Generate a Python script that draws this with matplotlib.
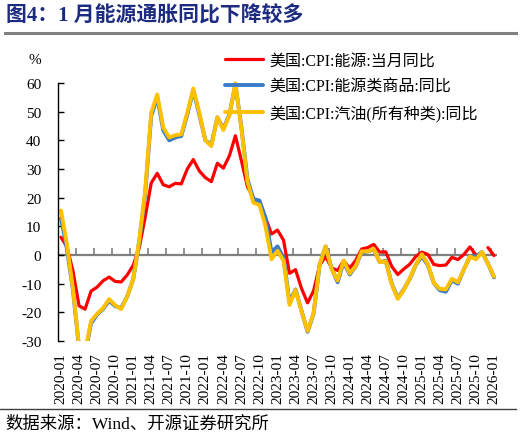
import matplotlib
matplotlib.use("Agg")
import matplotlib.pyplot as plt
import matplotlib.patches as mpatches
import numpy as np
import pandas as pd

months = [p.strftime("%Y-%m") for p in pd.period_range("2020-01", "2026-01", freq="M")]

energy_yoy = [
    6.2, 2.8, -5.7, -17.7, -18.9, -12.6, -11.2, -9.0, -7.7, -9.2, -9.4, -7.0,
    -3.6, 2.4, 13.2, 25.1, 28.5, 24.5, 23.8, 25.0, 24.8, 30.0, 33.3, 29.3,
    27.0, 25.6, 32.0, 30.3, 34.6, 41.6, 32.9, 23.8, 19.8, 17.6, 13.1, 7.3,
    8.7, 5.2, -6.4, -5.1, -11.7, -16.7, -12.5, -3.6, -0.5, -4.5, -5.4, -2.0,
    -4.6, -1.9, 2.1, 2.6, 3.7, 1.0, 1.1, -4.0, -6.8, -4.9, -3.2, -0.5,
    1.0, 0.2, -3.3, -3.7, -3.5, -0.8, -1.6, 0.2, 2.8, 0.0, np.nan, 2.6,
    -0.2,
]
energy_comm_yoy = [
    12.8, 2.0, -12.5, -32.5, -34.5, -23.8, -20.8, -18.8, -16.0, -17.8, -18.5, -14.5,
    -8.5, 4.5, 21.5, 48.5, 55.0, 43.5, 40.0, 41.0, 41.5, 49.0, 57.5, 49.0,
    40.0, 38.5, 48.0, 44.0, 49.0, 59.5, 44.5, 26.5, 19.5, 19.0, 13.0, 1.0,
    3.0, -1.0, -16.5, -12.0, -19.5, -26.8, -20.5, -3.5, 3.0, -4.7, -9.5, -2.5,
    -6.8, -4.0, 1.0, 1.2, 2.0, -2.5, -2.0, -10.0, -15.0, -12.0, -8.3, -3.5,
    -0.5, -3.5, -9.8, -12.3, -12.8, -8.8, -10.0, -5.0, -0.5, -0.5, 1.0, -3.0,
    -7.8,
]
gasoline_yoy = [
    15.5, 3.5, -12.0, -32.0, -33.8, -23.0, -20.5, -18.5, -15.4, -17.5, -18.9, -14.5,
    -8.5, 5.0, 22.5, 49.6, 56.0, 44.5, 41.0, 41.8, 42.1, 49.6, 58.1, 49.6,
    40.0, 38.0, 48.0, 43.6, 48.7, 59.9, 44.0, 25.6, 18.2, 17.5, 10.1, -1.5,
    1.5, -2.0, -17.4, -12.2, -19.7, -26.5, -20.3, -3.3, 3.0, -4.9, -8.9, -1.9,
    -6.4, -3.9, 1.3, 1.2, 2.2, -2.5, -2.2, -10.3, -15.3, -12.2, -8.1, -3.4,
    0.3, -3.2, -9.8, -11.8, -12.0, -8.3, -9.5, -5.0, -0.5, -1.5, 1.0, -3.0,
    -7.5,
]
series_names = ["美国:CPI:能源:当月同比", "美国:CPI:能源类商品:同比", "美国:CPI:汽油(所有种类):同比"]
y_ticks = [-30, -20, -10, 0, 10, 20, 30, 40, 50, 60]

FONT = ["Liberation Serif", "Noto Sans CJK SC"]
plt.rcParams["font.family"] = FONT

fig = plt.figure(figsize=(5.22, 4.39), dpi=100)
ax = fig.add_axes([58 / 522, 1 - 342 / 439, 439 / 522, 258 / 439])

x = np.arange(len(months))
clip = mpatches.Rectangle((0, 0), 1, 1.04, transform=ax.transAxes, fill=False)
colors = ["#FF0000", "#3A7CC8", "#FFC000"]
widths = [2.3, 2.8, 2.8]
handles = []
for vals, c, w, name in zip([energy_yoy, energy_comm_yoy, gasoline_yoy], colors, widths, series_names):
    ln, = ax.plot(x, vals, color=c, lw=w, solid_joinstyle="round", solid_capstyle="round", label=name)
    ln.set_clip_path(clip)
    handles.append(ln)

ax.set_xlim(-0.5, len(months) - 0.5)
ax.set_ylim(-30, 60)

# zero line with upward tick marks at category boundaries
ax.axhline(0, color="#7F7F7F", lw=1.6, zorder=1)
bounds = np.arange(2.5, len(months) - 0.5, 3)
ax.plot(bounds, np.zeros_like(bounds), linestyle="none", marker=2, markersize=5,
        markeredgewidth=1.2, color="#7F7F7F", zorder=1)

ax.set_xticks(x[::3])
ax.set_xticklabels(months[::3], rotation=90, fontsize=11)
ax.tick_params(axis="x", length=0, pad=8)
ax.set_yticks(y_ticks)
ax.set_yticklabels([str(v) for v in y_ticks], fontsize=11)
ax.tick_params(axis="y", direction="in", length=4, width=1, pad=12, color="black")

for s in ["top", "right", "bottom"]:
    ax.spines[s].set_visible(False)
ax.spines["left"].set_linewidth(1.0)
ax.spines["left"].set_color("black")

leg = fig.legend(handles=handles, loc="upper left", bbox_to_anchor=(225 / 522, 1 - 54 / 439),
                 frameon=False, fontsize=11.5, handlelength=2.35, handletextpad=0.4,
                 labelspacing=0.62, borderpad=0, borderaxespad=0)

fig.text(35 / 522, 1 - 61 / 439, "%", fontsize=11, ha="center", va="center")

fig.text(6 / 522, 1 - 16 / 439, "图4：1 月能源通胀同比下降较多", fontsize=15, fontweight="bold",
         color="#1C2B80", ha="left", va="center")
fig.add_artist(plt.Line2D([5 / 522, 516 / 522], [1 - 33.5 / 439, 1 - 33.5 / 439],
                          color="#808080", lw=2.2, transform=fig.transFigure))
fig.add_artist(plt.Line2D([0, 516 / 522], [1 - 410 / 439, 1 - 410 / 439],
                          color="#404040", lw=1.0, transform=fig.transFigure))
fig.text(5 / 522, 1 - 425 / 439, "数据来源：Wind、开源证券研究所", fontsize=12.5, ha="left", va="center")

fig.savefig("out.png", dpi=100)
